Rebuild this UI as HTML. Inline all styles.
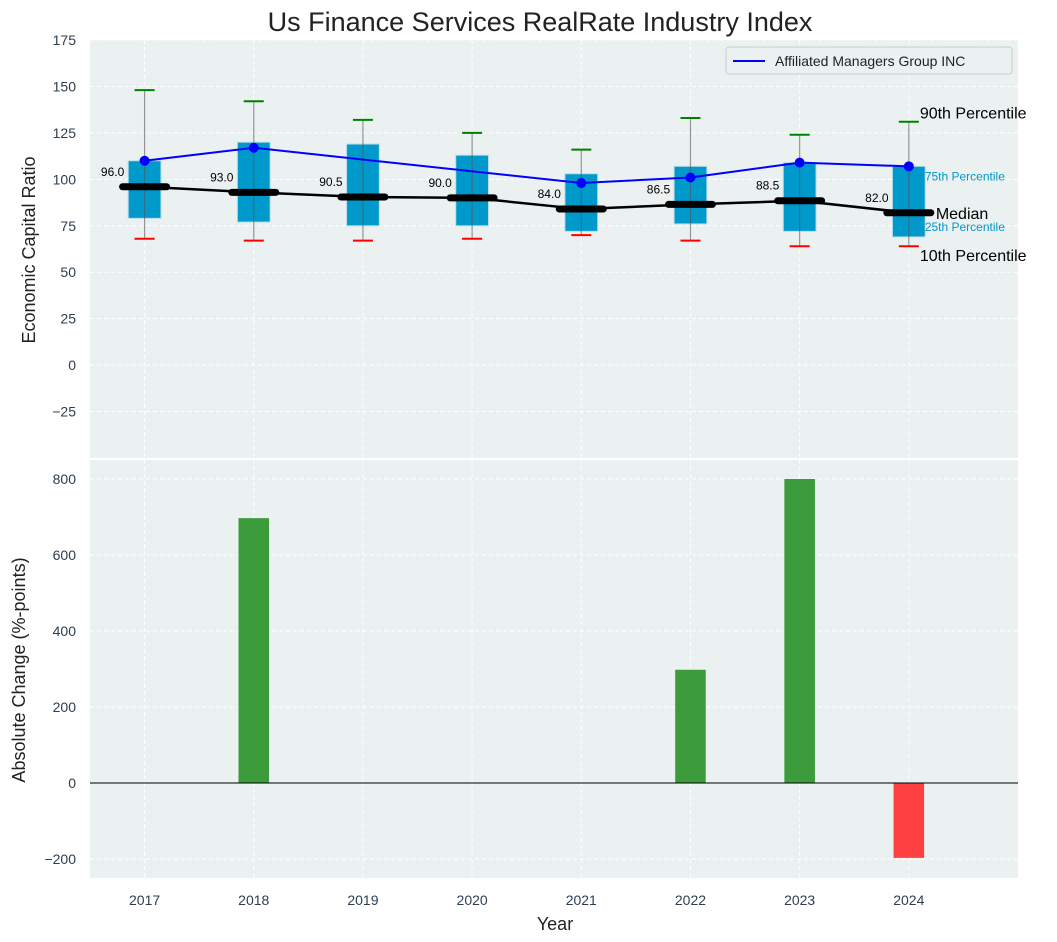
<!DOCTYPE html>
<html><head><meta charset="utf-8"><style>
body{margin:0;background:#fff;}
svg{display:block;font-family:"Liberation Sans","DejaVu Sans",sans-serif;}
</style></head><body>
<svg id="c" width="1057" height="942"></svg>
<script>
const years=[2017,2018,2019,2020,2021,2022,2023,2024];
const p10=[68,67,67,68,70,67,64,64];
const q1=[79,77,75,75,72,76,72,69];
const medians=[96,93,90.5,90,84,86.5,88.5,82];
const q3=[110,120,119,113,103,107,109,107];
const p90=[148,142,132,125,116,133,124,131];
const company=[110,117,null,null,98,101,109,107];
const changes=[0,697,0,0,0,298,800,-197];
const topTicks=[-25,0,25,50,75,100,125,150,175];
const botTicks=[-200,0,200,400,600,800];

const NS="http://www.w3.org/2000/svg";
const svg=document.getElementById('c');
function mk(t,a,p){const e=document.createElementNS(NS,t);for(const k in a)e.setAttribute(k,a[k]);(p||svg).appendChild(e);return e;}
const L=90,R=1018;
const x=v=>L+(v-2016.5)/(2025-2016.5)*(R-L);
const T0=40,T1=458,yT=v=>T1-(v+50)/225*(T1-T0);
const B0=460,B1=878,yB=v=>B1-(v+250)/1100*(B1-B0);
const pxYear=(R-L)/8.5;

let e=mk('rect',{x:L,y:T0,width:R-L,height:T1-T0,fill:'#ebf0f0'});
e=mk('rect',{x:L,y:B0,width:R-L,height:B1-B0,fill:'#ebf0f0'});

years.forEach(yr=>{mk('line',{x1:x(yr),x2:x(yr),y1:T0,y2:T1,stroke:'#fff','stroke-dasharray':'4,3'});mk('line',{x1:x(yr),x2:x(yr),y1:B0,y2:B1,stroke:'#fff','stroke-dasharray':'4,3'});});
topTicks.forEach(t=>{mk('line',{x1:L,x2:R,y1:yT(t),y2:yT(t),stroke:'#fff','stroke-dasharray':'4,3'});
 const tx=mk('text',{x:L-14,y:yT(t)+5,'text-anchor':'end','font-size':14,fill:'#2e3e50'});tx.textContent=t<0?'\u2212'+(-t):t;});
botTicks.forEach(t=>{mk('line',{x1:L,x2:R,y1:yB(t),y2:yB(t),stroke:'#fff','stroke-dasharray':'4,3'});
 const tx=mk('text',{x:L-14,y:yB(t)+5,'text-anchor':'end','font-size':14,fill:'#2e3e50'});tx.textContent=t<0?'\u2212'+(-t):t;});

years.forEach((yr,i)=>{
 const cx=x(yr),w=0.3*pxYear;
 e=mk('rect',{x:cx-w/2,y:yT(q3[i]),width:w,height:yT(q1[i])-yT(q3[i]),fill:'#0099cc',stroke:'#b8dde8','stroke-width':1});
 
 mk('line',{x1:cx,x2:cx,y1:yT(p10[i]),y2:yT(p90[i]),stroke:'#555','stroke-opacity':0.6,'stroke-width':1.2});
 mk('line',{x1:cx-10,x2:cx+10,y1:yT(p90[i]),y2:yT(p90[i]),stroke:'green','stroke-width':2});
 mk('line',{x1:cx-10,x2:cx+10,y1:yT(p10[i]),y2:yT(p10[i]),stroke:'red','stroke-width':2});
});
e=mk('polyline',{points:years.map((yr,i)=>x(yr)+','+yT(medians[i])).join(' '),fill:'none',stroke:'#000','stroke-width':2.5});

years.forEach((yr,i)=>{const cx=x(yr);
 mk('line',{x1:cx-22,x2:cx+22,y1:yT(medians[i]),y2:yT(medians[i]),stroke:'#000','stroke-width':7,'stroke-linecap':'round'});
 const t=mk('text',{x:cx-32,y:yT(medians[i])-11,'text-anchor':'middle','font-size':12,fill:'#000'});t.textContent=medians[i].toFixed(1);
 });
const cp=years.map((yr,i)=>company[i]==null?null:[x(yr),yT(company[i])]).filter(p=>p);
e=mk('polyline',{points:cp.map(p=>p.join(',')).join(' '),fill:'none',stroke:'#0000ff','stroke-width':2});

cp.forEach(p=>{const d=mk('circle',{cx:p[0],cy:p[1],r:5,fill:'#0000ff'});});

const li=7,lx=x(years[li]);
function lab(txt,xx,yy,size,col,name){const t=mk('text',{x:xx,y:yy,'font-size':size,fill:col});t.textContent=txt;}
lab('90th Percentile',lx+11,yT(p90[li])-3,16,'#000','p90-label');
lab('75th Percentile',lx+16,yT(q3[li])+14,12,'#0099cc','p75-label');
lab('Median',lx+27,yT(medians[li])+6,16,'#000','median-annotation');
lab('25th Percentile',lx+16,yT(q1[li])-6,12,'#0099cc','p25-label');
lab('10th Percentile',lx+11,yT(p10[li])+15,16,'#000','p10-label');

const lg=mk('g',{});
mk('rect',{x:726,y:47,width:286,height:27,rx:3,fill:'#ebf0f0',stroke:'#ccc'},lg);
mk('line',{x1:733,x2:765,y1:61,y2:61,stroke:'#0000ff','stroke-width':2},lg);
let t=mk('text',{x:775,y:66,'font-size':14,fill:'#222'},lg);t.textContent='Affiliated Managers Group INC';

years.forEach((yr,i)=>{const cx=x(yr),w=0.28*pxYear,v=changes[i];if(v===0)return;
 const r=mk('rect',{x:cx-w/2,y:Math.min(yB(v),yB(0)),width:w,height:Math.abs(yB(v)-yB(0)),fill:v>0?'#3c9c3c':'#ff4040'});
 });
mk('line',{x1:L,x2:R,y1:yB(0),y2:yB(0),stroke:'#000','stroke-width':1});

years.forEach(yr=>{const tx=mk('text',{x:x(yr),y:905,'text-anchor':'middle','font-size':14,fill:'#2e3e50'});tx.textContent=yr;});

t=mk('text',{x:540,y:31,'text-anchor':'middle','font-size':27,fill:'#222'});t.textContent='Us Finance Services RealRate Industry Index';
t=mk('text',{x:555,y:930,'text-anchor':'middle','font-size':18,fill:'#222'});t.textContent='Year';
t=mk('text',{x:0,y:0,'text-anchor':'middle','font-size':18,fill:'#222',transform:'translate(35,250) rotate(-90)'});t.textContent='Economic Capital Ratio';
t=mk('text',{x:0,y:0,'text-anchor':'middle','font-size':18,fill:'#222',transform:'translate(25,670) rotate(-90)'});t.textContent='Absolute Change (%-points)';
</script>
</body></html>
